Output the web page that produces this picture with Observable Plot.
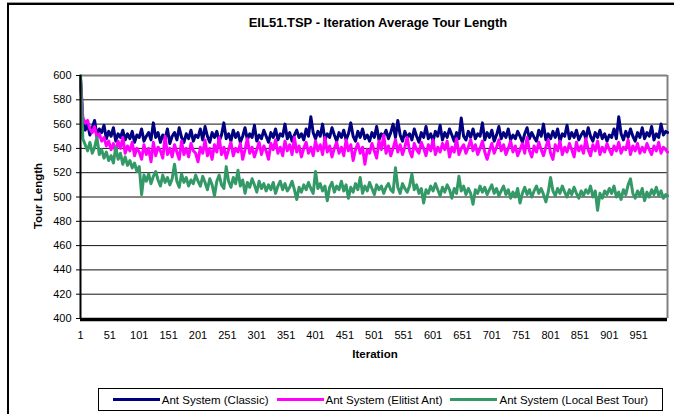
<!DOCTYPE html>
<html>
<head>
<meta charset="utf-8">
<script src="https://cdn.jsdelivr.net/npm/d3@7"></script>
<script src="https://cdn.jsdelivr.net/npm/@observablehq/plot@0.6"></script>
<style>
  body { margin: 0; background: #fff; font-family: "Liberation Sans", Arial, sans-serif; }
  #wrap { position: relative; width: 674px; height: 414px; overflow: hidden; background: #fff; }
  #frame { position: absolute; left: 7px; top: 3px; width: 800px; height: 600px; border-left: 2px solid #000; border-top: 2px solid #000; box-shadow: 0 -1px 0 #999; box-sizing: border-box; }
  #chart { position: absolute; left: 0; top: 0; }
  .lbl { position: absolute; font-weight: bold; color: #000; white-space: nowrap; }
  #title { left: 378px; top: 22px; transform: translate(-50%, -50%); font-size: 13px; }
  #ylab { left: 38px; top: 196px; transform: translate(-50%, -50%) rotate(-90deg); font-size: 11.5px; }
  #xlab { left: 375px; top: 354px; transform: translate(-50%, -50%); font-size: 11.5px; }
  #legend { position: absolute; left: 98px; top: 388px; width: 565px; height: 23px; border: 1px solid #000; box-sizing: border-box; display: flex; align-items: center; justify-content: center; font-size: 11.5px; background: #fff; }
  .item { display: flex; align-items: center; margin: 0 4px; }
  .sw { width: 47px; height: 3px; margin-right: 2px; }
</style>
</head>
<body>
<div id="wrap">
  <div id="frame"></div>
  <div id="chart"></div>
  <div id="title" class="lbl">EIL51.TSP - Iteration Average Tour Length</div>
  <div id="ylab" class="lbl">Tour Length</div>
  <div id="xlab" class="lbl">Iteration</div>
  <div id="legend"></div>
</div>
<script>
// Iterations sampled (every 4th iteration, plus the last one)
const iterations = d3.range(1, 1000, 4).concat([1000]);

const classic = [
598,562,555,560,551,557,563,550,556,553,
559,548,554,550,557,546,552,549,555,547,
552,548,554,545,551,549,556,546,550,553,
547,561,549,553,545,551,548,556,544,550,
553,547,557,549,545,552,548,555,546,551,
549,556,547,558,550,545,553,549,554,546,
551,561,548,552,546,555,549,553,545,550,
557,547,552,549,559,546,551,548,555,550,
545,553,549,556,547,552,550,560,548,553,
546,551,555,549,552,547,556,550,566,553,
548,554,550,560,547,552,549,557,551,546,
553,549,555,547,552,561,550,546,554,549,
556,548,551,546,553,549,558,547,552,550,
555,548,553,560,549,563,551,546,554,549,
552,547,556,550,545,553,549,558,548,552,
546,554,550,559,547,553,549,556,551,546,
553,548,565,550,547,554,549,556,548,552,
550,561,547,553,549,555,546,551,558,548,
553,549,556,547,551,548,554,550,545,552,
557,548,553,549,546,555,550,560,547,552,
548,554,549,556,546,552,550,559,548,553,
549,555,547,551,554,548,557,550,546,553,
549,555,548,552,546,551,549,556,548,566,
552,547,554,549,556,550,546,553,549,557,
548,553,550,558,547,552,549,560,551,554,
553];

const elitist = [
597,565,561,563,556,553,558,549,552,546,
549,542,546,539,544,537,546,540,549,536,
542,538,545,534,540,537,531,543,535,540,
529,545,534,541,538,532,550,535,540,533,
543,537,531,546,535,540,533,544,538,536,
529,541,536,547,534,540,531,543,537,549,
535,541,532,539,545,534,540,537,544,531,
539,548,536,541,533,539,545,535,542,538,
531,544,539,547,536,541,534,546,538,543,
535,549,537,542,533,540,545,536,541,534,
546,538,543,535,549,537,542,533,540,545,
536,541,534,547,538,543,530,539,544,536,
541,527,539,536,544,538,532,546,539,551,
536,542,534,540,547,537,543,535,541,549,
538,533,544,539,536,545,540,534,543,538,
547,535,541,537,544,539,546,533,541,537,
548,535,540,543,536,541,547,538,543,535,
540,546,537,531,538,544,536,541,547,538,
543,535,540,546,537,542,534,539,544,536,
549,538,533,542,537,545,539,534,541,547,
536,531,543,538,546,535,541,537,544,539,
533,545,538,542,536,548,539,534,543,538,
546,535,541,537,544,539,535,542,538,545,
536,541,539,547,535,542,538,544,536,541,
537,544,539,535,542,538,545,536,541,539,
537];

const localBest = [
600,548,543,538,545,536,541,549,535,539,
532,537,530,534,528,541,531,536,527,533,
526,530,524,528,521,525,502,518,513,519,
511,517,521,514,509,518,512,516,510,515,
527,513,508,519,512,516,509,514,511,518,
513,509,517,512,506,515,510,501,513,518,
510,507,525,513,508,516,511,522,509,514,
503,512,508,515,510,504,513,507,511,505,
510,506,512,503,509,513,506,511,505,508,
513,506,498,508,504,510,506,512,507,503,
521,507,511,505,509,497,508,512,504,509,
506,513,505,510,499,508,504,511,506,516,
503,509,505,512,507,502,510,506,509,503,
508,511,506,504,524,508,503,511,507,504,
509,519,506,510,503,507,495,506,503,509,
505,511,506,501,508,504,510,506,499,507,
503,517,505,509,502,507,503,494,506,503,
509,504,508,502,506,510,503,507,501,505,
509,502,506,499,504,500,507,495,503,508,
502,506,500,505,509,503,507,502,496,504,
516,505,501,507,503,509,504,500,506,502,
508,503,499,505,501,506,503,509,500,505,
489,503,499,505,502,507,503,509,500,504,
498,506,502,510,515,503,499,505,501,507,
497,504,500,506,502,508,501,505,499,502,
501];

const seriesNames = ["Ant System (Classic)", "Ant System (Elitist Ant)", "Ant System (Local Best Tour)"];
const seriesColors = ["#000080", "#FF00FF", "#339966"];
const yTicks = d3.range(400, 601, 20);
const xTicks = d3.range(1, 1000, 50);

const seriesValues = [classic, elitist, localBest];
const rows = [];
seriesValues.forEach((vals, s) => {
  vals.forEach((v, i) => rows.push({ series: seriesNames[s], iteration: iterations[i], value: v }));
});

const chart = Plot.plot({
  width: 674,
  height: 372,
  marginLeft: 80,
  marginRight: 7,
  marginTop: 75,
  marginBottom: 54,
  style: { fontFamily: "Liberation Sans, Arial, sans-serif", fontSize: "11px", background: "transparent", overflow: "visible", color: "#000" },
  x: { domain: [1, 1000] },
  y: { domain: [400, 600] },
  color: { domain: seriesNames, range: seriesColors },
  marks: [
    Plot.ruleY(yTicks.filter(d => d > 400 && d < 600), { stroke: "#111", strokeWidth: 1 }),
    Plot.ruleY([600], { stroke: "#808080", strokeWidth: 2 }),
    Plot.ruleX([1000], { stroke: "#808080", strokeWidth: 2 }),
    Plot.line(rows, { x: "iteration", y: "value", z: "series", stroke: "series", strokeWidth: 3, strokeLinejoin: "round" }),
    Plot.ruleX([1], { stroke: "#000", strokeWidth: 2 }),
    Plot.ruleY([400], { stroke: "#000", strokeWidth: 3.5, dy: 1 }),
    Plot.axisY({ ticks: yTicks, tickSize: 4, tickPadding: 5, label: null, tickFormat: d => String(d) }),
    Plot.axisX({ ticks: xTicks, tickSize: 0, tickPadding: 13, label: null, tickFormat: d => String(d) })
  ]
});
document.getElementById("chart").appendChild(chart);

const legend = document.getElementById("legend");
seriesNames.forEach((name, i) => {
  const item = document.createElement("div");
  item.className = "item";
  const sw = document.createElement("div");
  sw.className = "sw";
  sw.style.background = seriesColors[i];
  const t = document.createElement("span");
  t.textContent = name;
  item.appendChild(sw);
  item.appendChild(t);
  legend.appendChild(item);
});
</script>
</body>
</html>
